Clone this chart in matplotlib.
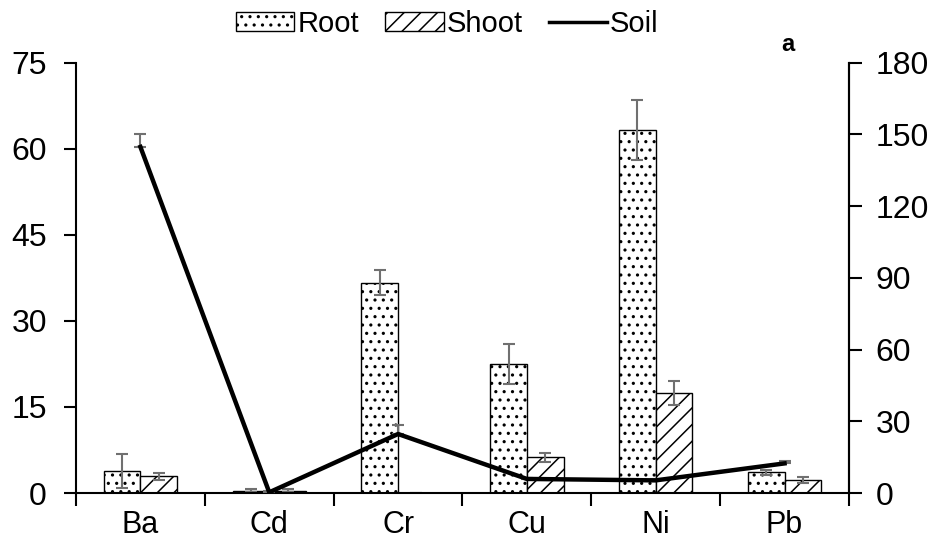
import numpy as np
import matplotlib.pyplot as plt
from matplotlib.lines import Line2D
from matplotlib.patches import Patch

plt.rcParams['font.family'] = ['Liberation Sans', 'DejaVu Sans']
plt.rcParams['hatch.linewidth'] = 1.1

metals = ['Ba', 'Cd', 'Cr', 'Cu', 'Ni', 'Pb']

# plant tissue concentrations (left axis)
root = [3.8, 0.4, 36.7, 22.5, 63.3, 3.6]
root_err = [3.0, 0.3, 2.1, 3.5, 5.2, 0.5]
shoot = [2.9, 0.4, 0.05, 6.2, 17.4, 2.3]
shoot_err = [0.6, 0.3, 0.0, 0.8, 2.1, 0.5]

# soil concentrations (right axis)
soil = [144.8, 0.3, 24.7, 5.9, 5.3, 12.4]
soil_err = [5.3, 0.4, 3.8, 0.5, 0.5, 1.1]

x = np.arange(len(metals))
w = 0.285
err_kw = dict(ecolor='#707070', elinewidth=1.5, capsize=4, capthick=1.5)

fig = plt.figure(figsize=(9.36, 5.46), dpi=100)
ax = fig.add_axes([0.0812, 0.097, 0.8258, 0.788])

ax.bar(x - w / 2, root, w, yerr=root_err, color='white', edgecolor='black',
       linewidth=1.0, hatch='..', error_kw=err_kw, zorder=2)
ax.bar(x + w / 2, shoot, w, yerr=shoot_err, color='white', edgecolor='black',
       linewidth=1.0, hatch='//', error_kw=err_kw, zorder=2)

ax.set_xlim(-0.5, len(metals) - 0.5)
ax.set_ylim(0, 75)
ax.set_yticks(np.arange(0, 76, 15))
ax.set_xticks(x)
ax.set_xticklabels(metals)
ax.set_xticks(np.arange(-0.5, len(metals)), minor=True)
ax.tick_params(axis='x', which='major', length=0, pad=12, labelsize=22)
ax.tick_params(axis='x', which='minor', length=9, width=1.5, direction='out')
ax.tick_params(axis='y', length=9, width=1.5, direction='out', labelsize=23, pad=12)
ax.spines['top'].set_visible(False)
for s in ['left', 'bottom', 'right']:
    ax.spines[s].set_linewidth(1.5)

ax2 = ax.twinx()
ax2.errorbar(x, soil, yerr=[np.zeros(len(soil)), soil_err], fmt='none',
             ecolor='#707070', elinewidth=1.5, capsize=4, capthick=1.5, zorder=2)
ax2.plot(x, soil, color='black', linewidth=3.2, zorder=3)
ax2.set_ylim(0, 180)
ax2.set_yticks(np.arange(0, 181, 30))
ax2.tick_params(axis='y', length=9, width=1.5, direction='out', labelsize=23, pad=10)
ax2.spines['top'].set_visible(False)
ax2.spines['right'].set_linewidth(1.5)
ax2.spines['left'].set_visible(False)
ax2.spines['bottom'].set_visible(False)

handles = [
    Patch(facecolor='white', edgecolor='black', hatch='..', label='Root'),
    Patch(facecolor='white', edgecolor='black', hatch='//', label='Shoot'),
    Line2D([0], [0], color='black', linewidth=2.5, label='Soil'),
]
fig.legend(handles=handles, loc='upper center', bbox_to_anchor=(0.478, 1.03),
           ncol=3, frameon=False, fontsize=21, handlelength=2.0,
           handleheight=0.6, handletextpad=0.1, columnspacing=0.9)

fig.text(0.842, 0.918, 'a', fontsize=17, fontweight='bold', ha='center', va='center')

fig.savefig('out.png', dpi=100)
